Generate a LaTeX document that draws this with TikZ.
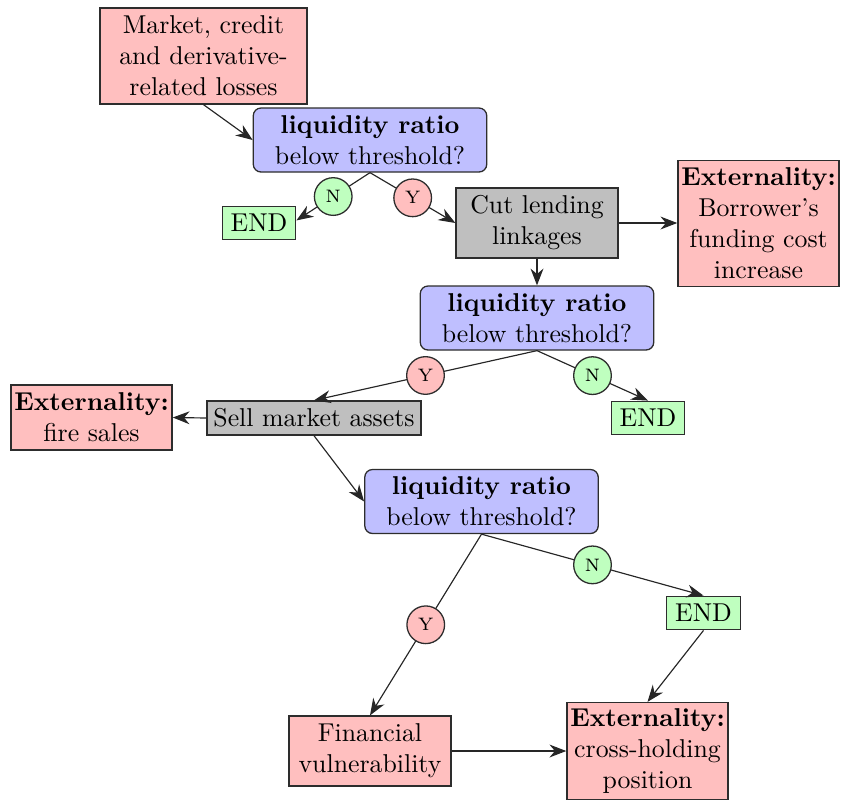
\documentclass[tikz,border=0pt]{standalone}
\usetikzlibrary{arrows.meta}
\definecolor{boxline}{RGB}{45,45,45}
\tikzset{
  base/.style={draw=boxline, line width=0.5pt, align=center, inner sep=2pt, font=\normalsize},
  extbox/.style={base, fill=red!25, inner xsep=1.3pt},
  decbox/.style={base, fill=blue!25, rounded corners=3pt, minimum width=90.5pt, minimum height=24.8pt},
  endbox/.style={base, fill=green!25, minimum width=28.5pt, minimum height=13pt, inner sep=1pt},
  actbox/.style={base, fill=gray!50},
  yes/.style={circle, draw=boxline, line width=0.5pt, fill=red!25, minimum size=14.6pt, inner sep=0pt, font=\scriptsize},
  no/.style={circle, draw=boxline, line width=0.5pt, fill=green!25, minimum size=14.6pt, inner sep=0pt, font=\scriptsize},
  flow/.style={line width=0.45pt, draw=black!85, -{Stealth[length=6.5pt,width=5pt]}}
}
\begin{document}
\begin{tikzpicture}[x=0.3876pt, y=-0.3876pt]
\useasboundingbox (0,0) rectangle (843,802);

% boxes
\node[extbox, minimum width=80.2pt, minimum height=37.2pt] (loss) at (203.5,56)
  {Market, credit\\and derivative-\\related losses};
\node[decbox] (q1) at (370,140) {\textbf{liquidity ratio}\\below threshold?};
\node[endbox] (e1) at (259,223) {END};
\node[actbox, minimum width=62.8pt, minimum height=27.1pt] (cut) at (537,223) {Cut lending\\linkages};
\node[extbox, minimum width=62.4pt, minimum height=48.8pt] (fund) at (758.5,223.5)
  {\textbf{Externality:}\\Borrower's\\funding cost\\increase};
\node[decbox] (q2) at (537,318) {\textbf{liquidity ratio}\\below threshold?};
\node[endbox] (e2) at (648,418) {END};
\node[actbox, minimum width=82.9pt, minimum height=13.2pt, inner sep=1pt] (sell) at (314,418) {Sell market assets};
\node[extbox, minimum width=62.4pt, minimum height=25.2pt] (fire) at (91.5,417.5)
  {\textbf{Externality:}\\fire sales};
\node[decbox] (q3) at (481.5,501.5) {\textbf{liquidity ratio}\\below threshold?};
\node[endbox] (e3) at (703.5,613) {END};
\node[extbox, minimum width=62.8pt, minimum height=27.1pt] (vul) at (370,751) {Financial\\vulnerability};
\node[extbox, minimum width=62.4pt, minimum height=37.6pt] (cross) at (647.5,751)
  {\textbf{Externality:}\\cross-holding\\position};

% connectors
\draw[flow] (loss.south) -- (q1.west);
\draw[flow] (q1.south) -- node[no] {N} ([yshift=1pt]e1.east);
\draw[flow] (q1.south) -- node[yes] {Y} (cut.west);
\draw[flow] (cut.east) -- (cut.east -| fund.west);
\draw[flow] (cut.south) -- (q2.north);
\draw[flow] (q2.south) -- node[yes] {Y} (sell.north);
\draw[flow] (q2.south) -- node[no] {N} (e2.north);
\draw[flow] (sell.west) -- (fire.east);
\draw[flow] (sell.south) -- (q3.west);
\draw[flow] (q3.south) -- node[yes] {Y} (vul.north);
\draw[flow] (q3.south) -- node[no] {N} (e3.north);
\draw[flow] (e3.south) -- (cross.north);
\draw[flow] (vul.east) -- (cross.west);
\end{tikzpicture}
\end{document}
